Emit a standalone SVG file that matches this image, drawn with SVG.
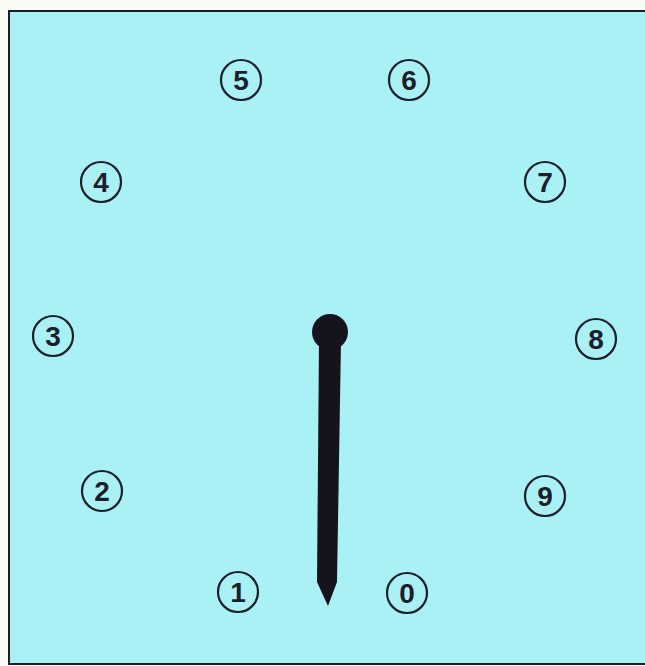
<svg xmlns="http://www.w3.org/2000/svg" width="645" height="666" viewBox="0 0 645 666">
<style>
.dial circle{fill:none;stroke:#1a1f2a;stroke-width:2.2}
.dial text{font-family:"Liberation Sans",Arial,sans-serif;font-weight:bold;font-size:28px;fill:#1a1f2a;text-anchor:middle}
</style>
<rect x="0" y="0" width="645" height="666" fill="#fbfbf6"/>
<rect x="9" y="11" width="640" height="653" fill="#aaf1f6" stroke="#1a1f2a" stroke-width="2"/>
<g id="n5" class="dial"><circle cx="241" cy="80" r="20"/><text x="241" y="90">5</text></g>
<g id="n6" class="dial"><circle cx="409" cy="80" r="20"/><text x="409" y="90">6</text></g>
<g id="n4" class="dial"><circle cx="101" cy="182" r="20"/><text x="101" y="192">4</text></g>
<g id="n7" class="dial"><circle cx="545" cy="182" r="20"/><text x="545" y="192">7</text></g>
<g id="n3" class="dial"><circle cx="53" cy="336" r="20"/><text x="53" y="346">3</text></g>
<g id="n8" class="dial"><circle cx="596" cy="339" r="20"/><text x="596" y="349">8</text></g>
<g id="n2" class="dial"><circle cx="102" cy="491" r="20"/><text x="102" y="501">2</text></g>
<g id="n9" class="dial"><circle cx="545" cy="496" r="20"/><text x="545" y="506">9</text></g>
<g id="n1" class="dial"><circle cx="238" cy="592" r="20"/><text x="238" y="602">1</text></g>
<g id="n0" class="dial"><circle cx="407" cy="593" r="20"/><text x="407" y="603">0</text></g>
<g id="hand">
<circle cx="330" cy="332" r="18" fill="#15141c"/>
<path d="M319,340 L341,340 L337,582 L328,606 L317,582 Z" fill="#15141c"/>
</g>
</svg>
